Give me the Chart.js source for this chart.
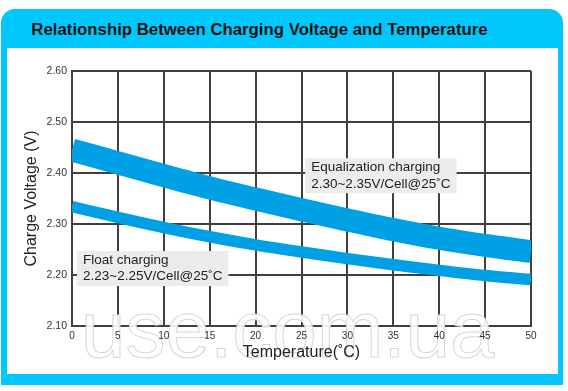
<!DOCTYPE html>
<html>
<head>
<meta charset="utf-8">
<script src="https://cdn.jsdelivr.net/npm/chart.js@4.4.1/dist/chart.umd.min.js"></script>
<style>
html, body { margin: 0; padding: 0; background: #fff; width: 568px; height: 391px; overflow: hidden; font-family: "Liberation Sans", Arial, sans-serif; }
#frame { position: absolute; left: 1px; top: 9px; width: 562px; height: 376px; background: #00c8fd; border-radius: 14px 14px 0 0; }
#title { position: absolute; left: 1px; top: 9px; width: 517px; height: 39px; line-height: 42px; text-align: center; font-weight: bold; font-size: 16.8px; color: #111; }
#inner { position: absolute; left: 7px; top: 48px; width: 551px; height: 326px; background: #fff; }
</style>
</head>
<body>
<div id="frame"></div>
<div id="title">Relationship Between Charging Voltage and Temperature</div>
<div id="inner"><canvas id="chart" width="551" height="326"></canvas></div>
<script>
// values (band centre lines)
const temps = [0, 5, 10, 15, 20, 25, 30, 35, 40, 45, 50];
const equalizeV = [2.445, 2.420, 2.395, 2.371, 2.349, 2.328, 2.308, 2.289, 2.272, 2.258, 2.246];
const floatV = [2.334, 2.313, 2.293, 2.275, 2.259, 2.245, 2.232, 2.220, 2.209, 2.199, 2.191];

const labelLines = [
    ["Equalization charging", "2.30~2.35V/Cell@25˚C"],
    ["Float charging", "2.23~2.25V/Cell@25˚C"]
];
const labelAtX = [25.4, 0.55];
const labelAtY = [2.429, 2.247];
const xTitle = 'Temperature(˚C)';

const BLUE = '#00a0e4';
const GRID = '#463e3e';
const FONT = '"Liberation Sans", Arial, sans-serif';

function points(ys) {
    return temps.map((t, i) => ({ x: t, y: ys[i] }));
}

// grey boxes with the two captions, then the faint watermark
const overlays = {
    id: 'overlays',
    afterDatasetsDraw(chart) {
        const ctx = chart.ctx;
        const xs = chart.scales.x, ys = chart.scales.y;
        ctx.save();
        ctx.font = '13.5px ' + FONT;
        ctx.textBaseline = 'middle';
        labelLines.forEach((lines, i) => {
            const px = xs.getPixelForValue(labelAtX[i]);
            const py = ys.getPixelForValue(labelAtY[i]);
            let w = 0;
            lines.forEach(l => { w = Math.max(w, ctx.measureText(l).width); });
            ctx.fillStyle = '#ececec';
            ctx.fillRect(px, py, w + 12, 35);
            ctx.fillStyle = '#222';
            lines.forEach((l, k) => ctx.fillText(l, px + 6, py + 9 + k * 16.6));
        });

        ctx.font = '80px ' + FONT;
        ctx.textBaseline = 'alphabetic';
        ctx.fillStyle = 'rgba(255,255,255,0.9)';
        ctx.strokeStyle = '#d6d6d6';
        ctx.lineWidth = 1;
        ctx.fillText('use.com.ua', 74, 309);
        ctx.strokeText('use.com.ua', 74, 309);
        ctx.restore();
    },
    // x axis title sits on top of the watermark
    afterDraw(chart) {
        const ctx = chart.ctx;
        const xs = chart.scales.x;
        ctx.save();
        ctx.font = '16px ' + FONT;
        ctx.fillStyle = '#222';
        ctx.textAlign = 'center';
        ctx.textBaseline = 'middle';
        ctx.fillText(xTitle, (xs.left + xs.right) / 2, xs.bottom - 21);
        ctx.restore();
    }
};

new Chart(document.getElementById('chart'), {
    type: 'line',
    data: {
        datasets: [{
            data: points(equalizeV),
            borderColor: BLUE,
            borderWidth: 23,
            borderCapStyle: 'butt',
            pointRadius: 0,
            cubicInterpolationMode: 'monotone',
            fill: false
        }, {
            data: points(floatV),
            borderColor: BLUE,
            borderWidth: 11.5,
            borderCapStyle: 'butt',
            pointRadius: 0,
            cubicInterpolationMode: 'monotone',
            fill: false
        }]
    },
    options: {
        responsive: false,
        animation: false,
        layout: {
            padding: { top: 23, right: 27, left: 0, bottom: 0 }
        },
        scales: {
            x: {
                type: 'linear',
                min: 0,
                max: 50,
                afterFit: s => { s.height = 48; },
                ticks: {
                    z: 1,
                    stepSize: 5,
                    autoSkip: false,
                    maxRotation: 0,
                    padding: 4,
                    color: '#333',
                    font: { family: FONT, size: 10 }
                },
                grid: { color: GRID, lineWidth: 2, drawTicks: false },
                border: { color: GRID, width: 2 },
                title: { display: false }
            },
            y: {
                min: 2.1,
                max: 2.6,
                afterFit: s => { s.width = 65; },
                ticks: {
                    z: 1,
                    stepSize: 0.1,
                    padding: 5,
                    color: '#333',
                    font: { family: FONT, size: 10.5 },
                    callback: v => v.toFixed(2)
                },
                grid: { color: GRID, lineWidth: 2, drawTicks: false },
                border: { color: GRID, width: 2 },
                title: {
                    display: true,
                    text: 'Charge Voltage (V)',
                    color: '#222',
                    padding: { top: 15, bottom: 0 },
                    font: { family: FONT, size: 16 }
                }
            }
        },
        plugins: {
            legend: { display: false },
            tooltip: { enabled: false }
        }
    },
    plugins: [overlays]
});
</script>
</body>
</html>
